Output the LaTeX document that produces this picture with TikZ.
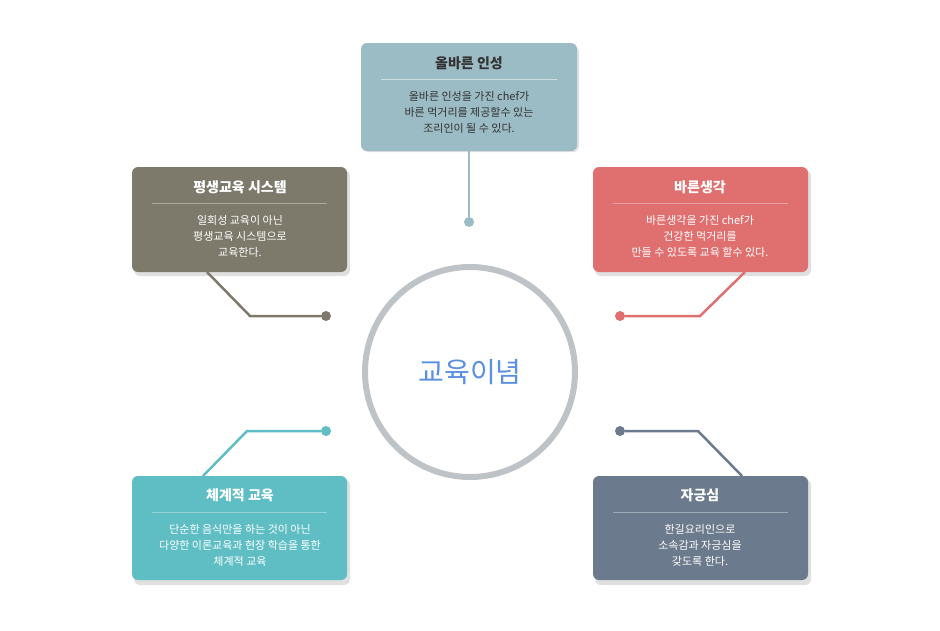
\documentclass[tikz,border=0pt]{standalone}
\usepackage{fontspec}
\setmainfont{Noto Sans CJK KR}
\begin{document}
\begin{tikzpicture}[x=1pt,y=-1pt,
 box/.style={rounded corners=6pt,draw=none},
 ttl/.style={font=\fontsize{14}{16}\selectfont\bfseries},
 bdy/.style={font=\fontsize{11}{16}\selectfont,align=center},
 conn/.style={line width=2.5pt},
 dot/.style={circle,inner sep=0pt,minimum size=10pt}]
\definecolor{cA}{HTML}{9BBBC5}\definecolor{cB}{HTML}{7D7A6C}
\definecolor{cC}{HTML}{E07070}\definecolor{cD}{HTML}{5FBEC4}
\definecolor{cE}{HTML}{6B7A8C}\definecolor{txt}{HTML}{333333}
\useasboundingbox (0,0) rectangle (940,630);
% shadows
\foreach \x/\y in {361/43,132/167,593/167,132/476,593/476}
  \fill[black,opacity=0.12,rounded corners=6pt] (\x+2,\y+3) rectangle ++(216,106);
% connectors
\node[dot,fill=cA] (dA) at (469,222) {};
\coordinate (sA) at (469,151);
\draw[conn,cA] (sA) -- (dA);
\node[dot,fill=cB] (dB) at (326,316) {};
\coordinate (sB) at (207,272);
\draw[conn,cB] (sB) -- (250,316) -- (dB);
\node[dot,fill=cC] (dC) at (620,316) {};
\coordinate (sC) at (745,272);
\draw[conn,cC] (sC) -- (700,316) -- (dC);
\node[dot,fill=cD] (dD) at (326,431) {};
\coordinate (sD) at (203,476);
\draw[conn,cD] (sD) -- (247,431) -- (dD);
\node[dot,fill=cE] (dE) at (620,431) {};
\coordinate (sE) at (742,476);
\draw[conn,cE] (sE) -- (698,431) -- (dE);
% boxes
\fill[box,cA] (361,43) rectangle (577,151);
\fill[box,cB] (132,167) rectangle (347,272);
\fill[box,cC] (593,167) rectangle (808,272);
\fill[box,cD] (132,476) rectangle (347,580);
\fill[box,cE] (593,476) rectangle (808,580);
% separators
\draw[white,opacity=0.5] (381,79) -- (557,79);
\draw[white,opacity=0.35] (152,203) -- (327,203);
\draw[white,opacity=0.35] (613,203) -- (788,203);
\draw[white,opacity=0.35] (152,512) -- (327,512);
\draw[white,opacity=0.35] (613,512) -- (788,512);
% texts
\node[ttl,txt] (tA) at (469,63) {올바른 인성};
\node[bdy,txt] (bA) at (469,112) {올바른 인성을 가진 chef가\\바른 먹거리를 제공할수 있는\\조리인이 될 수 있다.};
\node[ttl,white] (tB) at (240,187) {평생교육 시스템};
\node[bdy,white] (bB) at (240,236) {일회성 교육이 아닌\\평생교육 시스템으로\\교육한다.};
\node[ttl,white] (tC) at (700,187) {바른생각};
\node[bdy,white] (bC) at (700,236) {바른생각을 가진 chef가\\건강한 먹거리를\\만들 수 있도록 교육 할수 있다.};
\node[ttl,white] (tD) at (240,495) {체계적 교육};
\node[bdy,white] (bD) at (240,545) {단순한 음식만을 하는 것이 아닌\\다양한 이론교육과 현장 학습을 통한\\체계적 교육};
\node[ttl,white] (tE) at (700,495) {자긍심};
\node[bdy,white] (bE) at (700,545) {한길요리인으로\\소속감과 자긍심을\\갖도록 한다.};
% circle
\node[circle,draw={rgb,255:red,190;green,195;blue,199},line width=6pt,fill=white,minimum size=210pt,
  text={rgb,255:red,91;green,143;blue,224},font=\fontsize{28}{30}\selectfont] (c) at (470,372) {교육이념};
\end{tikzpicture}
\end{document}
